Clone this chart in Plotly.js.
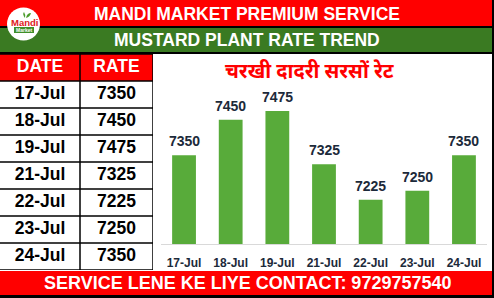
<!DOCTYPE html>
<html>
<head>
<meta charset="utf-8">
<script src="https://cdn.plot.ly/plotly-3.0.1.min.js"></script>
<style>
html,body{margin:0;padding:0;background:#fff;}
#chart{width:494px;height:298px;}
</style>
</head>
<body>
<div id="chart"></div>
<script>
// ---- data ----
const dates = ['17-Jul','18-Jul','19-Jul','21-Jul','22-Jul','23-Jul','24-Jul'];
const rates = [7350, 7450, 7475, 7325, 7225, 7250, 7350];
const tableHeaders = ['DATE', 'RATE'];
const headerTitle = 'MANDI MARKET PREMIUM SERVICE';
const subTitle = 'MUSTARD PLANT RATE TREND';
const chartTitle = 'चरखी दादरी सरसों रेट';
const footerText = 'SERVICE LENE KE LIYE CONTACT: 9729757540';

// ---- helpers (pixel -> paper) ----
const W = 494, H = 298;
const X = p => p / W;
const Y = p => 1 - p / H;
const FONT = 'Liberation Sans, Arial, sans-serif';
const RED = '#ff0000', GREEN = '#3a7a22', NAVY = '#1c2a3a';

// table geometry (style only): column widths in px
const colWidths = [80, 73];
const colCenters = [colWidths[0] / 2, colWidths[0] + colWidths[1] / 2];
const tableW = colWidths[0] + colWidths[1];
const nRows = dates.length + 1;

function rect(x0, y0, x1, y1, fill, layer) {
  return {type: 'rect', xref: 'paper', yref: 'paper', x0: X(x0), x1: X(x1), y0: Y(y1), y1: Y(y0),
          fillcolor: fill, line: {width: 0}, layer: layer || 'below'};
}

const shapes = [
  rect(0, 0, 494, 26.5, RED),
  rect(0, 26, 494, 28, '#000'),
  rect(0, 28, 494, 52, GREEN),
  rect(0, 52, 494, 54, '#000'),
  rect(0, 271, 494, 295, RED),
  rect(0, 295, 494, 298, '#000'),
  rect(492, 0, 494, 298, '#000'),
  // logo
  {type: 'circle', xref: 'paper', yref: 'paper', x0: X(7), x1: X(40), y0: Y(40.5), y1: Y(7.5),
   fillcolor: '#fff', line: {width: 0}, layer: 'above'},
  {type: 'path', xref: 'paper', yref: 'paper', layer: 'above', fillcolor: '#4a9a2a', line: {width: 0},
   path: `M ${X(25)} ${Y(18)} Q ${X(22)} ${Y(14)} ${X(24)} ${Y(12)} Q ${X(26)} ${Y(15)} ${X(25)} ${Y(18)} Z`},
  {type: 'path', xref: 'paper', yref: 'paper', layer: 'above', fillcolor: '#4a9a2a', line: {width: 0},
   path: `M ${X(26)} ${Y(18)} Q ${X(27)} ${Y(13)} ${X(31)} ${Y(13)} Q ${X(30)} ${Y(17)} ${X(26)} ${Y(18)} Z`},
  {type: 'rect', xref: 'paper', yref: 'paper', layer: 'above', x0: X(14), x1: X(34), y0: Y(33), y1: Y(27),
   fillcolor: '#3f8f2a', line: {width: 0}}
];

// table shapes on x2/y2 (row index scale)
shapes.push({type: 'rect', xref: 'x2', yref: 'y2', x0: 0, x1: tableW, y0: -0.5, y1: 0.5,
             fillcolor: RED, line: {width: 0}, layer: 'below'});
for (let r = 0; r <= nRows; r++) {
  shapes.push({type: 'line', xref: 'x2', yref: 'y2', x0: 0, x1: tableW, y0: r - 0.5, y1: r - 0.5,
               line: {color: '#000', width: 1.5}, layer: 'above'});
}
[colWidths[0], tableW].forEach(xv => {
  shapes.push({type: 'line', xref: 'x2', yref: 'y2', x0: xv, x1: xv, y0: -0.5, y1: nRows - 0.5,
               line: {color: '#000', width: 1.5}, layer: 'above'});
});

const annotations = [
  {text: '<b>' + headerTitle + '</b>', x: X(247), y: Y(13.5)},
  {text: '<b>' + subTitle + '</b>', x: X(247), y: Y(40)},
  {text: '<b>' + footerText + '</b>', x: X(247), y: Y(283), size: 18},
].map(a => ({text: a.text, x: a.x, y: a.y, xref: 'paper', yref: 'paper', xanchor: 'center', yanchor: 'middle',
            showarrow: false, font: {family: FONT, size: a.size || 17.5, color: '#fff'}}));

annotations.push(
  {text: '<b>' + chartTitle + '</b>', x: X(310), y: Y(72), xref: 'paper', yref: 'paper',
   xanchor: 'center', yanchor: 'middle', showarrow: false,
   font: {family: 'Noto Sans Devanagari, Noto Sans, sans-serif', size: 20, color: RED}},
  {text: '<b>Mandi</b>', x: X(24), y: Y(22.5), xref: 'paper', yref: 'paper', showarrow: false,
   xanchor: 'center', yanchor: 'middle', font: {family: FONT, size: 9.5, color: '#e0201c'}},
  {text: '<b>Market</b>', x: X(24), y: Y(30), xref: 'paper', yref: 'paper', showarrow: false,
   xanchor: 'center', yanchor: 'middle', font: {family: FONT, size: 5, color: '#fff'}}
);

// data labels above bars
dates.forEach((d, i) => {
  annotations.push({text: '<b>' + rates[i] + '</b>', x: d, y: rates[i], xref: 'x', yref: 'y',
    xanchor: 'center', yanchor: 'middle', yshift: 14, showarrow: false,
    font: {family: FONT, size: 14, color: NAVY}});
});

const rowIdx = dates.map((d, i) => i + 1);

const traces = [
  // table header text
  {
    type: 'scatter', mode: 'text', xaxis: 'x2', yaxis: 'y2',
    x: colCenters, y: [0, 0], text: tableHeaders,
    textposition: 'middle center',
    textfont: {family: FONT, size: 17.5, color: '#fff', weight: 'bold'},
    hoverinfo: 'skip', cliponaxis: false
  },
  // table date column
  {
    type: 'scatter', mode: 'text', xaxis: 'x2', yaxis: 'y2',
    x: dates.map(() => colCenters[0]), y: rowIdx, text: dates,
    textposition: 'middle center',
    textfont: {family: FONT, size: 17.5, color: '#000', weight: 'bold'},
    hoverinfo: 'skip', cliponaxis: false
  },
  // table rate column
  {
    type: 'scatter', mode: 'text', xaxis: 'x2', yaxis: 'y2',
    x: rates.map(() => colCenters[1]), y: rowIdx, text: rates.map(String),
    textposition: 'middle center',
    textfont: {family: FONT, size: 17.5, color: '#000', weight: 'bold'},
    hoverinfo: 'skip', cliponaxis: false
  },
  {
    type: 'bar', x: dates, y: rates,
    marker: {color: '#58ab3a', line: {width: 0}},
    hoverinfo: 'skip'
  }
];

const layout = {
  width: W, height: H,
  margin: {l: 0, r: 0, t: 0, b: 0, pad: 0},
  paper_bgcolor: '#fff', plot_bgcolor: 'rgba(0,0,0,0)',
  showlegend: false,
  bargap: 0.49,
  xaxis: {
    type: 'category', domain: [X(160.7), X(487.3)], range: [-0.5, 6.5],
    showline: true, linecolor: '#d9d9d9', linewidth: 1,
    ticks: '', showgrid: false, zeroline: false, fixedrange: true,
    ticklabelstandoff: 8,
    tickfont: {family: FONT, size: 12, color: NAVY, weight: 'bold'}
  },
  yaxis: {
    domain: [Y(244), Y(95)], range: [7100, 7520],
    visible: false, showgrid: false, zeroline: false, fixedrange: true
  },
  xaxis2: {
    domain: [0, X(tableW)], range: [0, tableW], anchor: 'y2',
    visible: false, showgrid: false, zeroline: false, fixedrange: true
  },
  yaxis2: {
    domain: [Y(54 + nRows * 27), Y(54)], range: [nRows - 0.5, -0.5], anchor: 'x2',
    visible: false, showgrid: false, zeroline: false, fixedrange: true
  },
  shapes: shapes,
  annotations: annotations
};

Plotly.newPlot('chart', traces, layout, {staticPlot: true, displayModeBar: false});
</script>
</body>
</html>
